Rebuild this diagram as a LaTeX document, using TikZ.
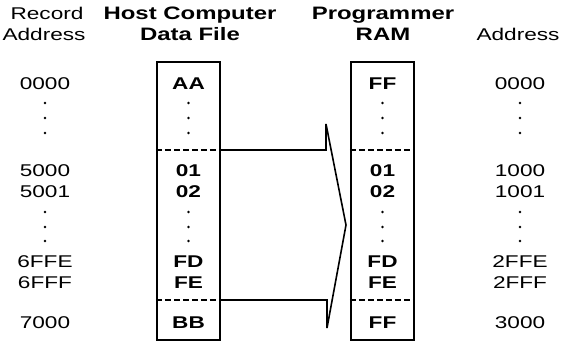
\documentclass[tikz,border=0pt]{standalone}
\usepackage{fontspec}
\setmainfont{Liberation Sans}[FakeStretch=1.33]

\begin{document}
\begin{tikzpicture}[x=1pt,y=-1pt,
	txt/.style={anchor=base,inner sep=0pt,font=\fontsize{17}{19}\selectfont},
	hdr/.style={anchor=base,inner sep=0pt,font=\fontsize{18}{20}\selectfont\bfseries},
	cell/.style={anchor=base,inner sep=0pt,font=\fontsize{17}{19}\selectfont\bfseries},
	memory/.style={draw,line width=2.3pt,inner sep=0pt,minimum width=63pt,minimum height=278pt},
	sep/.style={line width=1.1pt,dash pattern=on 6pt off 3pt}]
	
	\useasboundingbox (0,0) rectangle (569,343);
	
	\def\lx{45};
	\def\hx{188.5};
	\def\px{382.5};
	\def\rx{520};
	
	% headers
	\node[txt] (rechd) at (47,19) {Record};
	\node[txt] (addhd) at (44,40) {Address};
	\node[hdr] (hosthd) at (190,19) {Host Computer};
	\node[hdr] (filehd) at (190,40) {Data File};
	\node[hdr] (proghd) at (383,19) {Programmer};
	\node[hdr] (ramhd) at (383,40) {RAM};
	\node[txt] (radhd) at (518,40) {Address};
	
	% the two memories
	\node[memory] (host) at (\hx,201) {};
	\node[memory] (ram) at (\px,201) {};
	
	\foreach \y/\a/\b/\c/\d in {89/0000/AA/FF/0000,176/5000/01/01/1000,197/5001/02/02/1001,
		267/6FFE/FD/FD/2FFE,288/6FFF/FE/FE/2FFF,328/7000/BB/FF/3000}{
		\node[txt] (rec\y) at (\lx,\y) {\a};
		\node[cell] (host\y) at (\hx,\y) {\b};
		\node[cell] (ram\y) at (\px,\y) {\c};
		\node[txt] (adr\y) at (\rx,\y) {\d};
	}
	
	\foreach \y in {103,118,133,212,227,241}
		\foreach \x in {\lx,\hx,\px,\rx}
			\fill (\x,\y) circle (1.3pt);
	
	% block boundaries
	\foreach \y in {150,300}{
		\draw[sep] (host.west |- 0,\y) -- (host.east |- 0,\y);
		\draw[sep] (ram.west |- 0,\y) -- (ram.east |- 0,\y);
	}
	
	% transfer arrow
	\coordinate (tip) at (346,225);
	\coordinate (topback) at (326,150);
	\coordinate (toptail) at (326,124);
	\coordinate (botback) at (327,300);
	\coordinate (bottail) at (327,328);
	\draw[line width=1.6pt,line join=miter] (host.east |- topback) -- (topback) -- (toptail) -- (tip)
		-- (bottail) -- (botback) -- (host.east |- botback);
	
\end{tikzpicture}
\end{document}
